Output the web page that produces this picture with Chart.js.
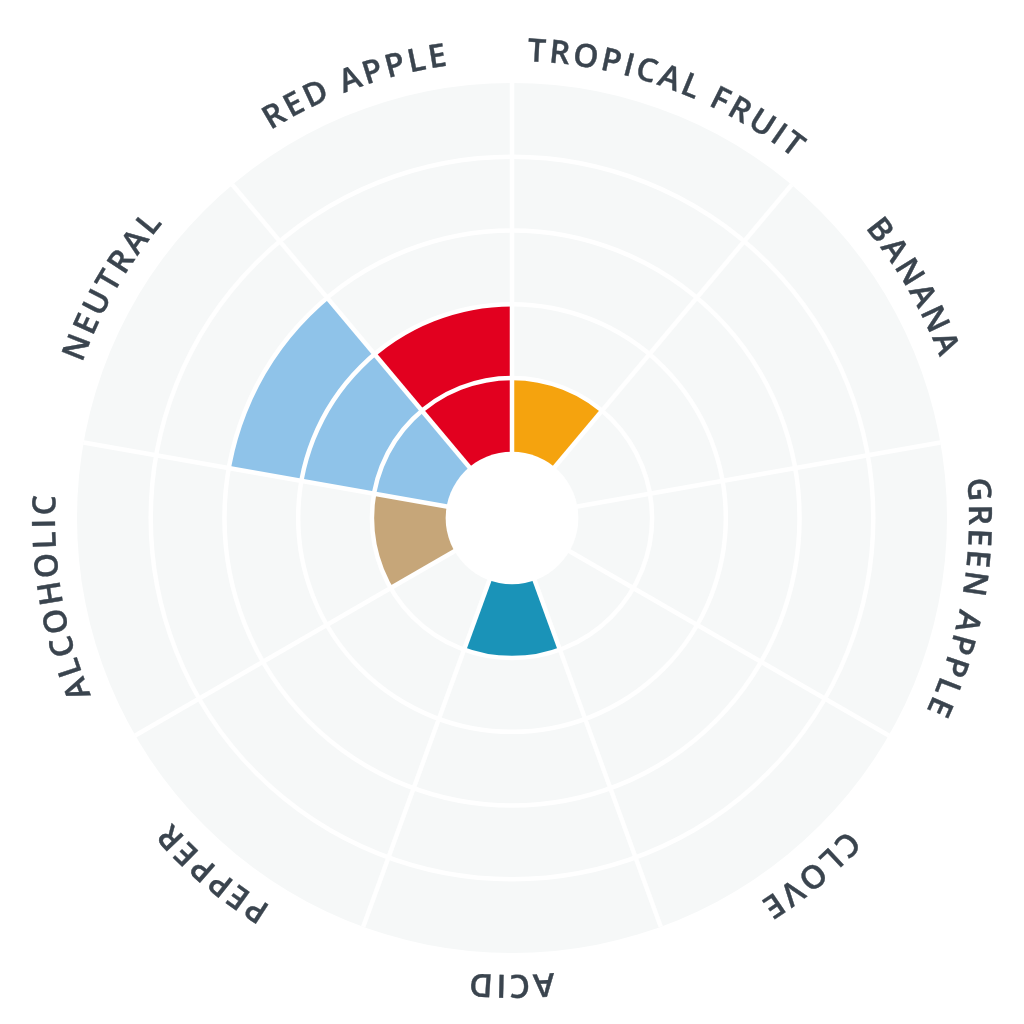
<!DOCTYPE html>
<html>
<head>
    <title>Flavour Wheel</title>
    <script src="https://cdn.jsdelivr.net/npm/chart.js"></script>
    <style>
        html, body { margin: 0; padding: 0; background: #ffffff; }
        #wrap { width: 1024px; height: 1024px; }
    </style>
</head>
<body>

<div id="wrap">
    <canvas id="wheel"></canvas>
</div>

<script>
    // flavours, clockwise starting at 12 o'clock
    const flavours = ['TROPICAL FRUIT', 'BANANA', 'GREEN APPLE', 'CLOVE', 'ACID', 'PEPPER', 'ALCOHOLIC', 'NEUTRAL', 'RED APPLE'];
    // intensity of each flavour = number of filled rings
    const intensity = [1, 0, 0, 0, 1, 0, 1, 3, 2];
    const flavourColors = ['#f5a30e', '#f5a30e', '#8fc3e9', '#1a93b8', '#1a93b8', '#c6a679', '#c6a679', '#8fc3e9', '#e2001f'];

    const wheelBg = '#f6f8f8';
    const labelColor = '#3a444e';

    // draws the grey disc under the bars, the empty hole and the curved labels
    const wheelDecor = {
        id: 'wheelDecor',
        beforeDatasetsDraw(chart) {
            const s = chart.scales.r;
            const ctx = chart.ctx;
            ctx.save();
            ctx.beginPath();
            ctx.arc(s.xCenter, s.yCenter, s.drawingArea, 0, Math.PI * 2);
            ctx.fillStyle = wheelBg;
            ctx.fill();
            ctx.restore();
        },
        afterDraw(chart) {
            const s = chart.scales.r;
            const ctx = chart.ctx;
            const cx = s.xCenter, cy = s.yCenter;

            // hole in the middle
            ctx.save();
            ctx.beginPath();
            ctx.arc(cx, cy, s.getDistanceFromCenterForValue(0), 0, Math.PI * 2);
            ctx.fillStyle = '#ffffff';
            ctx.fill();

            // labels bent along the rim, one letter at a time
            ctx.font = '600 32px "Open Sans"';
            ctx.fillStyle = labelColor;
            ctx.strokeStyle = labelColor;
            ctx.lineWidth = 0.4;
            ctx.textAlign = 'center';
            ctx.textBaseline = 'alphabetic';
            const R = s.drawingArea + 22;
            const gap = 3;
            const step = s.getIndexAngle(1) - s.getIndexAngle(0);
            flavours.forEach((text, i) => {
                const mid = s.getIndexAngle(i) + step / 2;
                const chars = text.split('');
                const widths = chars.map(c => ctx.measureText(c).width);
                const total = widths.reduce((a, b) => a + b, 0) + gap * (chars.length - 1);
                let a = mid - total / 2 / R;
                chars.forEach((c, k) => {
                    ctx.save();
                    ctx.translate(cx, cy);
                    ctx.rotate(a + widths[k] / 2 / R);
                    ctx.fillText(c, 0, -R);
                    ctx.strokeText(c, 0, -R);
                    ctx.restore();
                    a += (widths[k] + gap) / R;
                });
            });
            ctx.restore();
        }
    };

    new Chart(document.getElementById('wheel'), {
        type: 'polarArea',
        data: {
            labels: flavours,
            datasets: [{
                data: intensity,
                backgroundColor: (c) => intensity[c.dataIndex] > 0 ? flavourColors[c.dataIndex] : 'rgba(0,0,0,0)',
                borderWidth: 0
            }]
        },
        options: {
            responsive: true,
            maintainAspectRatio: false,
            animation: false,
            events: [],
            layout: {
                padding: { left: 77, right: 76, top: 80, bottom: 68 }
            },
            scales: {
                r: {
                    min: -0.9,
                    max: 5,
                    ticks: { display: false, stepSize: 1 },
                    pointLabels: { display: false },
                    grid: {
                        circular: true,
                        z: 1, // white rings go over the bars so stacked blocks are split
                        lineWidth: 4.5,
                        color: (c) => (c.tick && c.tick.value > 0 && c.tick.value < 5) ? '#ffffff' : 'rgba(0,0,0,0)'
                    },
                    angleLines: {
                        display: true,
                        color: '#ffffff',
                        lineWidth: 4.5
                    }
                }
            },
            plugins: {
                legend: { display: false },
                tooltip: { enabled: false }
            }
        },
        plugins: [wheelDecor]
    });
</script>
</body>
</html>
